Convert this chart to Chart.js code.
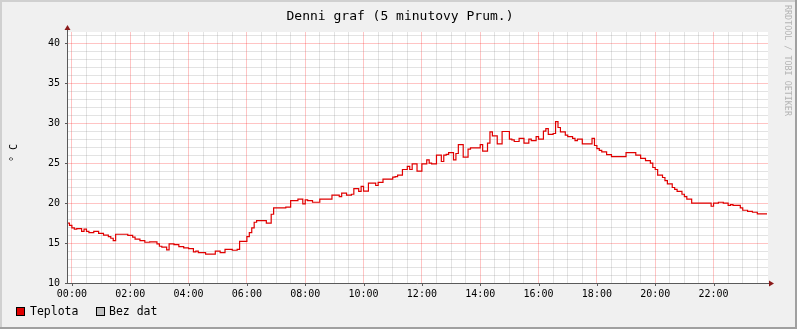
<!DOCTYPE html>
<html>
<head>
<meta charset="utf-8">
<script src="https://cdn.jsdelivr.net/npm/chart.js@4/dist/chart.umd.min.js"></script>
<style>
  body { margin: 0; background: #f0f0f0; }
  #graf { display: block; }
</style>
</head>
<body>
<canvas id="graf" width="797" height="329"></canvas>
<script>
// minuty od pulnoci (zaporne = predchozi den), hodnota plati od daneho casu
var minuty = [-10, -5, 0, 5, 10, 20, 25, 30, 35, 45, 55, 65, 75, 80, 85, 90, 115, 125, 130, 140,
  150, 160, 175, 180, 185, 195, 200, 210, 220, 230, 240, 250, 255, 260, 275, 295, 305, 315, 330, 340,
  345, 360, 365, 370, 375, 380, 400, 410, 415, 440, 450, 465, 475, 480, 485, 495, 510, 535, 550, 555,
  565, 575, 580, 590, 595, 600, 610, 625, 630, 640, 660, 665, 670, 680, 690, 695, 700, 710, 720, 730,
  735, 740, 750, 760, 765, 770, 775, 785, 790, 795, 805, 815, 820, 840, 845, 855, 860, 865, 875, 885,
  900, 905, 910, 920, 930, 940, 945, 955, 960, 970, 975, 980, 990, 995, 1000, 1005, 1015, 1020, 1030, 1035,
  1040, 1050, 1070, 1075, 1080, 1085, 1090, 1100, 1110, 1140, 1160, 1170, 1180, 1190, 1195, 1200, 1205, 1215, 1220, 1225,
  1235, 1240, 1245, 1255, 1260, 1265, 1275, 1315, 1320, 1330, 1340, 1350, 1355, 1360, 1375, 1380, 1390, 1400, 1410, 1420,
  1430];
var teplota = [17.7, 17.5, 17.2, 16.9, 16.75, 16.8, 16.45, 16.75, 16.45, 16.3, 16.45, 16.2, 16.0, 15.8, 15.6, 15.3, 16.1, 15.95, 15.75, 15.5,
  15.3, 15.1, 15.15, 14.9, 14.6, 14.5, 14.15, 14.9, 14.8, 14.55, 14.4, 14.3, 13.9, 14.0, 13.8, 13.6, 14.0, 13.8, 14.2, 14.1,
  14.2, 15.2, 15.8, 16.3, 16.9, 17.6, 17.8, 17.5, 18.6, 19.4, 19.5, 20.3, 20.5, 19.9, 20.4, 20.3, 20.1, 20.5, 21.0, 20.8,
  21.25, 21.0, 21.1, 21.8, 21.45, 22.1, 21.5, 22.5, 22.2, 22.6, 23.0, 23.25, 23.3, 23.5, 24.2, 24.6, 24.2, 24.9, 24.0, 24.9,
  25.4, 25.0, 24.9, 26.0, 25.2, 26.0, 26.1, 26.3, 25.4, 26.2, 27.3, 25.75, 26.75, 26.9, 27.3, 26.5, 27.5, 28.9, 28.4, 27.4,
  28.95, 28.0, 27.9, 27.7, 28.1, 27.5, 28.0, 27.8, 28.3, 28.0, 29.0, 29.3, 28.6, 28.7, 30.2, 29.45, 28.9, 28.5, 28.3, 28.1,
  27.8, 28.0, 27.4, 28.1, 27.2, 26.8, 26.6, 26.4, 26.05, 25.8, 26.3, 26.0, 25.6, 25.3, 25.0, 24.45, 24.2, 23.5, 23.2, 22.8,
  22.4, 21.95, 21.7, 21.45, 21.1, 20.8, 20.5, 20.0, 19.6, 20.0, 20.1, 20.0, 19.7, 19.8, 19.7, 19.4, 19.1, 18.95, 18.85, 18.65,
  18.65];

var nazev = 'Denni graf (5 minutovy Prum.)';
var jednotka = '° C';
var popisky = ['Teplota', 'Bez dat'];
var yTicks = [10, 15, 20, 25, 30, 35, 40];

var mono = "'DejaVu Sans Mono', monospace";
var mrizka = 'rgba(140,140,140,0.24)';
var hlavni = 'rgba(255,0,0,0.23)';

var body = minuty.map(function (m, i) { return { x: m, y: teplota[i] }; });

function pad(n) { return (n < 10 ? '0' : '') + n; }

var ramec = {
  id: 'ramec',
  beforeDraw: function (chart) {
    var c = chart.ctx, a = chart.chartArea;
    c.save();
    c.fillStyle = '#f0f0f0';
    c.fillRect(0, 0, chart.width, chart.height);
    c.fillStyle = '#d0d0d0';
    c.fillRect(0, 0, chart.width, 2);
    c.fillRect(0, 0, 2, chart.height);
    c.fillStyle = '#a0a0a0';
    c.fillRect(0, chart.height - 2, chart.width, 2);
    c.fillRect(chart.width - 2, 0, 2, chart.height);
    c.fillStyle = '#ffffff';
    c.fillRect(a.left, a.top, a.right - a.left, a.bottom - a.top);
    c.restore();
  },
  afterDraw: function (chart) {
    var c = chart.ctx, a = chart.chartArea;
    c.save();
    // osy
    c.strokeStyle = '#5a5a5a';
    c.lineWidth = 1;
    c.beginPath();
    c.moveTo(a.left - 0.5, a.bottom + 0.5);
    c.lineTo(a.left - 0.5, a.top - 4);
    c.moveTo(a.left - 3, a.bottom + 0.5);
    c.lineTo(a.right + 2, a.bottom + 0.5);
    c.stroke();
    // sipky
    c.fillStyle = '#8b1a1a';
    c.beginPath();
    c.moveTo(a.left - 3.5, a.top - 2);
    c.lineTo(a.left + 2.5, a.top - 2);
    c.lineTo(a.left - 0.5, a.top - 7);
    c.closePath();
    c.fill();
    c.beginPath();
    c.moveTo(a.right + 1, a.bottom - 2.5);
    c.lineTo(a.right + 1, a.bottom + 3.5);
    c.lineTo(a.right + 6, a.bottom + 0.5);
    c.closePath();
    c.fill();
    // znacky na osach
    var ys = chart.scales.y, xs = chart.scales.x;
    c.beginPath();
    c.strokeStyle = '#5a5a5a';
    yTicks.forEach(function (v) {
      var py = Math.round(ys.getPixelForValue(v)) + 0.5;
      c.moveTo(a.left - 3, py);
      c.lineTo(a.left, py);
    });
    for (var h = 0; h < 24; h += 2) {
      var px = Math.round(xs.getPixelForValue(h * 60)) + 0.5;
      c.moveTo(px, a.bottom);
      c.lineTo(px, a.bottom + 3);
    }
    c.stroke();
    // titulek
    c.fillStyle = '#000';
    c.font = '13px ' + mono;
    c.textAlign = 'center';
    c.textBaseline = 'middle';
    c.fillText(nazev, 400, 16.5);
    // popis osy y
    c.save();
    c.translate(14, 153);
    c.rotate(-Math.PI / 2);
    c.font = '10px ' + mono;
    c.fillText(jednotka, 0, 0);
    c.restore();
    // vodoznak
    c.save();
    c.translate(787, 5);
    c.rotate(Math.PI / 2);
    c.textAlign = 'left';
    c.fillStyle = '#b4b4b4';
    c.font = '8.4px ' + mono;
    c.fillText('RRDTOOL / TOBI OETIKER', 0, 0);
    c.restore();
    // legenda
    c.font = '11.5px ' + mono;
    c.textAlign = 'left';
    c.lineWidth = 1;
    c.strokeStyle = '#000';
    c.fillStyle = '#e00000';
    c.fillRect(16.5, 307.5, 8, 8);
    c.strokeRect(16.5, 307.5, 8, 8);
    c.fillStyle = '#c0c0c0';
    c.fillRect(96.5, 307.5, 8, 8);
    c.strokeRect(96.5, 307.5, 8, 8);
    c.fillStyle = '#000';
    c.fillText(popisky[0], 30, 312);
    c.fillText(popisky[1], 109, 312);
    c.restore();
  }
};

new Chart(document.getElementById('graf'), {
  type: 'line',
  data: {
    datasets: [{
      label: popisky[0],
      data: body,
      stepped: 'after',
      borderColor: '#e00000',
      borderWidth: 1.2,
      pointRadius: 0,
      fill: false
    }]
  },
  options: {
    responsive: false,
    animation: false,
    layout: { padding: { left: 0, top: 32, right: 29, bottom: 0 } },
    plugins: { legend: { display: false }, tooltip: { enabled: false } },
    scales: {
      x: {
        type: 'linear',
        min: -8,
        max: 1432,
        afterFit: function (s) { s.height = 46; },
        afterBuildTicks: function (s) {
          var t = [];
          for (var m = 0; m < 1440; m += 30) t.push({ value: m });
          s.ticks = t;
        },
        border: { display: false },
        grid: {
          drawTicks: false,
          color: function (ctx) {
            return ctx.tick && ctx.tick.value % 120 === 0 ? hlavni : mrizka;
          }
        },
        ticks: {
          autoSkip: false,
          maxRotation: 0,
          padding: 5,
          color: '#000',
          font: { family: mono, size: 10 },
          callback: function (v) { return v % 120 === 0 ? pad(v / 60) + ':00' : ''; }
        }
      },
      y: {
        min: 10,
        max: 41.4,
        afterFit: function (s) { s.width = 68; },
        afterBuildTicks: function (s) {
          var t = [];
          for (var v = 10; v <= 41; v++) t.push({ value: v });
          s.ticks = t;
        },
        border: { display: false },
        grid: {
          drawTicks: false,
          color: function (ctx) {
            return ctx.tick && ctx.tick.value % 5 === 0 ? hlavni : mrizka;
          }
        },
        ticks: {
          autoSkip: false,
          padding: 8,
          color: '#000',
          font: { family: mono, size: 10 },
          callback: function (v) { return v % 5 === 0 ? v : ''; }
        }
      }
    }
  },
  plugins: [ramec]
});
</script>
</body>
</html>
